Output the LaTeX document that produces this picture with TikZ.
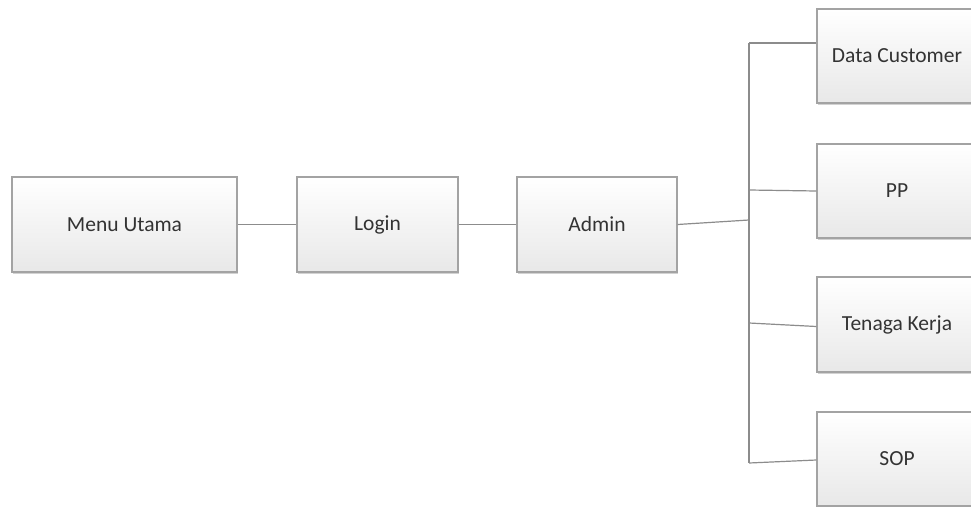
\documentclass[tikz,border=0pt]{standalone}
\usepackage{fontspec}
\setmainfont{Carlito}
\usetikzlibrary{shadows}
\definecolor{boxline}{HTML}{A3A3A3}
\definecolor{txt}{HTML}{333333}
\definecolor{conn}{HTML}{8C8C8C}
\tikzset{
  box/.style={draw=boxline, line width=1.2pt, top color=white, bottom color=black!9,
    minimum height=95pt, inner sep=0pt, text=txt,
    font=\fontsize{21.5}{25}\selectfont,
    drop shadow={shadow xshift=1.2pt, shadow yshift=-1.5pt, fill=black!35, opacity=0.5}},
  conn/.style={draw=conn, line width=1.2pt}
}
\begin{document}
\begin{tikzpicture}[x=1pt,y=-1pt]
\clip (0,0) rectangle (971,506);
\fill[white] (0,0) rectangle (971,506);
\node[box, minimum width=225pt] (menu) at (124.5,224.5) {Menu Utama};
\node[box, minimum width=161pt] (login) at (377.5,224.5) {Login};
\node[box, minimum width=160pt] (admin) at (597,224.5) {Admin};
\node[box, minimum width=160pt, minimum height=94pt] (dc) at (897,56) {Data Customer};
\node[box, minimum width=160pt, minimum height=94pt] (pp) at (897,191) {PP};
\node[box, minimum width=160pt, minimum height=95pt] (tk) at (897,324.5) {Tenaga Kerja};
\node[box, minimum width=160pt, minimum height=94pt] (sop) at (897,459) {SOP};
\coordinate (jtop) at (749,43);
\coordinate (jbot) at (749,463);
\coordinate (jadm) at (749,220);
\coordinate (jpp) at (749,190);
\coordinate (jtk) at (749,323);
\draw[conn] (menu.east) -- (login.west);
\draw[conn] (login.east) -- (admin.west);
\draw[conn] (admin.east) -- (jadm);
\draw[conn] (jtop) -- (jbot);
\draw[conn] (jtop) -- (dc.west |- jtop);
\draw[conn] (jpp) -- (pp.west);
\draw[conn] (jtk) -- ([yshift=-2pt]tk.west);
\draw[conn] (jbot) -- ([yshift=3pt]sop.west |- jbot);
\end{tikzpicture}
\end{document}
